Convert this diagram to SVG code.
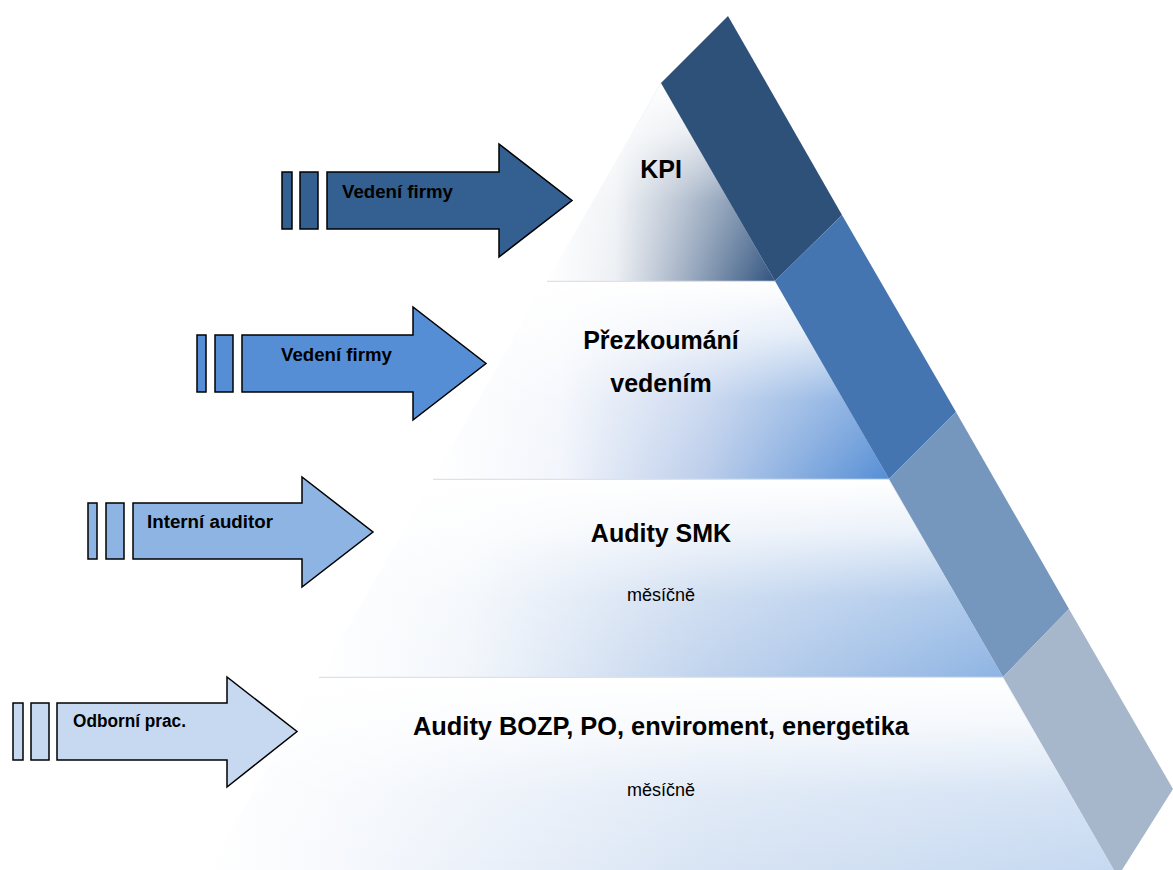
<svg xmlns="http://www.w3.org/2000/svg" width="1173" height="870" viewBox="0 0 1173 870">
  <defs>
    <linearGradient id="h1" x1="0" y1="0" x2="1" y2="0">
      <stop offset="0" stop-color="#FFFFFF"/>
      <stop offset="0.3" stop-color="#EDF0F4"/>
      <stop offset="0.6" stop-color="#A2B0C4"/>
      <stop offset="1" stop-color="#31547F"/>
    </linearGradient>
    <linearGradient id="h2" x1="0" y1="0" x2="1" y2="0">
      <stop offset="0" stop-color="#FFFFFF"/>
      <stop offset="0.28" stop-color="#F2F5FB"/>
      <stop offset="0.6" stop-color="#BBCDEB"/>
      <stop offset="1" stop-color="#558ED5"/>
    </linearGradient>
    <linearGradient id="h3" x1="0" y1="0" x2="1" y2="0">
      <stop offset="0" stop-color="#FFFFFF"/>
      <stop offset="0.22" stop-color="#F2F6FB"/>
      <stop offset="0.55" stop-color="#C3D5EE"/>
      <stop offset="1" stop-color="#8EB4E3"/>
    </linearGradient>
    <linearGradient id="h4" x1="0" y1="0" x2="1" y2="0">
      <stop offset="0" stop-color="#FFFFFF"/>
      <stop offset="0.18" stop-color="#F4F7FC"/>
      <stop offset="0.55" stop-color="#D8E4F4"/>
      <stop offset="1" stop-color="#C6D9F1"/>
    </linearGradient>
    <linearGradient id="v" x1="0" y1="0" x2="0" y2="1">
      <stop offset="0" stop-color="#FFFFFF" stop-opacity="1"/>
      <stop offset="0.25" stop-color="#FFFFFF" stop-opacity="0.8"/>
      <stop offset="0.6" stop-color="#FFFFFF" stop-opacity="0.25"/>
      <stop offset="1" stop-color="#FFFFFF" stop-opacity="0"/>
    </linearGradient>
    <style>
      .arrow { stroke: #000000; stroke-width: 1.5; stroke-linejoin: miter; }
      .lbl { font-family: "Liberation Sans", Arial, sans-serif; font-weight: bold; font-size: 18px; fill: #000000; }
      .title { font-family: "Liberation Sans", Arial, sans-serif; font-weight: bold; font-size: 25px; fill: #000000; text-anchor: middle; }
      .sub { font-family: "Liberation Sans", Arial, sans-serif; font-size: 18px; fill: #000000; text-anchor: middle; }
      .sep { stroke: #DCE2EA; stroke-width: 1.5; fill: none; }
    </style>
  </defs>
  <rect width="1173" height="870" fill="#FFFFFF"/>

  <!-- Pyramid tiers -->
  <g id="tier-kpi">
    <polygon points="661,83 775,281 547,281" fill="url(#h1)"/>
    <polygon points="661,83 775,281 547,281" fill="url(#v)"/>
    <line class="sep" x1="547" y1="281.5" x2="775" y2="281.5"/>
    <text class="title" x="661" y="178">KPI</text>
  </g>
  <g id="tier-prezkoumani">
    <polygon points="546,282 776,282 889,479 433,479" fill="url(#h2)"/>
    <polygon points="546,282 776,282 889,479 433,479" fill="url(#v)"/>
    <line class="sep" x1="433" y1="479.5" x2="889" y2="479.5"/>
    <text class="title" x="661" y="349">Přezkoumání</text>
    <text class="title" x="661" y="392">vedením</text>
  </g>
  <g id="tier-smk">
    <polygon points="433,480 889,480 1003,677 319,677" fill="url(#h3)"/>
    <polygon points="433,480 889,480 1003,677 319,677" fill="url(#v)"/>
    <line class="sep" x1="319" y1="677.5" x2="1003" y2="677.5"/>
    <text class="title" x="661" y="542">Audity SMK</text>
    <text class="sub" x="661" y="601">měsíčně</text>
  </g>
  <g id="tier-bozp">
    <polygon points="319,678 1003,678 1114,870 208,870" fill="url(#h4)"/>
    <polygon points="319,678 1003,678 1114,870 208,870" fill="url(#v)"/>
    <text class="title" x="661" y="735" textLength="496" lengthAdjust="spacingAndGlyphs">Audity BOZP, PO, enviroment, energetika</text>
    <text class="sub" x="661" y="796">měsíčně</text>
  </g>

  <!-- Side band -->
  <g id="band">
    <polygon points="661,83 728,16 842,215 775,281" fill="#2E5179"/>
    <polygon points="775,281 842,215 956,412 889,479" fill="#4575B0"/>
    <polygon points="889,479 956,412 1069,609 1003,677" fill="#7697BD"/>
    <polygon points="1003,677 1069,609 1173,789 1122,870 1114,870" fill="#A6B6CB"/>
  </g>

  <!-- Arrows -->
  <g id="arrow-vedeni-1">
    <rect class="arrow" x="282" y="172" width="10" height="57" fill="#335F91"/>
    <rect class="arrow" x="300" y="172" width="18" height="57" fill="#335F91"/>
    <path class="arrow" d="M327,172 H499 V144 L572,200.5 L499,257 V229 H327 Z" fill="#335F91"/>
    <text class="lbl" x="342" y="198" textLength="111" lengthAdjust="spacingAndGlyphs">Vedení firmy</text>
  </g>
  <g id="arrow-vedeni-2">
    <rect class="arrow" x="197" y="335" width="9" height="57" fill="#558ED5"/>
    <rect class="arrow" x="215" y="335" width="18" height="57" fill="#558ED5"/>
    <path class="arrow" d="M242,335 H413 V307 L486,363.5 L413,420 V392 H242 Z" fill="#558ED5"/>
    <text class="lbl" x="281" y="361" textLength="111" lengthAdjust="spacingAndGlyphs">Vedení firmy</text>
  </g>
  <g id="arrow-auditor">
    <rect class="arrow" x="88" y="503" width="9" height="56" fill="#8EB4E3"/>
    <rect class="arrow" x="106" y="503" width="18" height="56" fill="#8EB4E3"/>
    <path class="arrow" d="M133,503 H302 V477 L373,532 L302,587 V559 H133 Z" fill="#8EB4E3"/>
    <text class="lbl" x="147" y="528" textLength="126" lengthAdjust="spacingAndGlyphs">Interní auditor</text>
  </g>
  <g id="arrow-odborni">
    <rect class="arrow" x="13" y="703" width="10" height="57" fill="#C6D9F1"/>
    <rect class="arrow" x="31" y="703" width="18" height="57" fill="#C6D9F1"/>
    <path class="arrow" d="M57,703 H227 V677 L297,731.5 L227,787 V760 H57 Z" fill="#C6D9F1"/>
    <text class="lbl" x="73" y="727" textLength="113" lengthAdjust="spacingAndGlyphs">Odborní prac.</text>
  </g>
</svg>
